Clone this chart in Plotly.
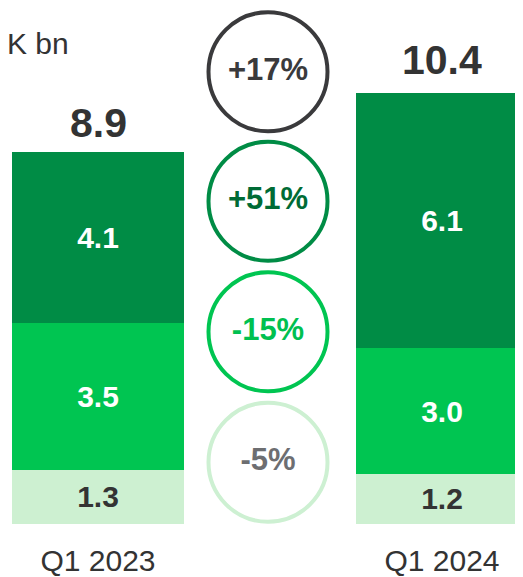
import plotly.graph_objects as go

# ---- data ----
categories = ["Q1 2023", "Q1 2024"]
seg_dark = [4.1, 6.1]
seg_mid = [3.5, 3.0]
seg_light = [1.3, 1.2]
totals = [8.9, 10.4]
change_labels = ["+17%", "+51%", "-15%", "-5%"]
unit_label = "K bn"

# ---- styles ----
FONT = "Liberation Sans, Arial, sans-serif"
DARK = "#008c45"
MID = "#00c551"
LIGHT = "#cdf0d1"
TXT = "#333333"

# page body has an 8px default margin; lay the figure out to compensate
OFF = 8
W, H = 523, 577 - OFF
BASE_REF = 526                 # reference pixel row of the bar baseline
PLOT_H = BASE_REF - OFF        # plot area height in figure pixels
MB = H - PLOT_H
PX_PER_UNIT = 42.0
Y_MAX = PLOT_H / PX_PER_UNIT
CAT_PX = 344.0                 # pixels per category step
X0 = -(98 - OFF) / CAT_PX      # first category centred at reference x=98
X_RANGE = [X0, X0 + W / CAT_PX]

xpos = list(range(len(categories)))

fig = go.Figure()
for vals, col, tcol in [(seg_light, LIGHT, TXT), (seg_mid, MID, "white"), (seg_dark, DARK, "white")]:
    fig.add_trace(go.Bar(
        x=xpos, y=vals, width=0.5, marker=dict(color=col, line=dict(width=0)),
        text=[f"<b>{v:.1f}</b>" for v in vals], textposition="inside",
        insidetextanchor="middle", textangle=0, constraintext="none",
        textfont=dict(family=FONT, size=30, color=tcol),
        hoverinfo="skip", showlegend=False,
    ))

# change circles (reference pixel rows of their centres)
circle_ref_px = [72, 202, 333, 464]
circle_y = [(BASE_REF - p) / PX_PER_UNIT for p in circle_ref_px]
circle_x = 0.5 - 2 / CAT_PX
line_cols = ["#3a3a3c", DARK, MID, "#cdf0d2"]
text_cols = ["#3a3a3c", "#006b35", "#00c050", "#6d6e71"]
fig.add_trace(go.Scatter(
    x=[circle_x] * len(change_labels), y=circle_y, mode="markers+text",
    marker=dict(size=119, color="white", line=dict(width=4, color=line_cols)),
    text=[f"<b>{t}</b>" for t in change_labels], textposition="middle center",
    textfont=dict(family=FONT, size=31, color=text_cols),
    hoverinfo="skip", showlegend=False, cliponaxis=False,
))

annotations = []
for x, t in zip(xpos, totals):
    annotations.append(dict(
        x=x, y=t, xref="x", yref="y", text=f"<b>{t:.1f}</b>", showarrow=False,
        yanchor="bottom", yshift=4, font=dict(family=FONT, size=41, color=TXT),
    ))
annotations.append(dict(
    x=0, y=(BASE_REF - 44) / PX_PER_UNIT, xref="paper", yref="y", text=unit_label,
    showarrow=False, xanchor="left", yanchor="middle", xshift=-3,
    font=dict(family=FONT, size=30, color=TXT),
))

fig.update_layout(
    width=W, height=H, barmode="stack",
    margin=dict(l=0, r=0, t=0, b=MB),
    paper_bgcolor="white", plot_bgcolor="white",
    xaxis=dict(range=X_RANGE, tickvals=xpos, ticktext=categories, showgrid=False,
               zeroline=False, showline=False, ticks="outside", ticklen=10,
               tickcolor="rgba(0,0,0,0)", tickfont=dict(family=FONT, size=30, color=TXT)),
    yaxis=dict(range=[0, Y_MAX], visible=False, showgrid=False, zeroline=False),
    annotations=annotations,
)

fig.write_html("out.html")
